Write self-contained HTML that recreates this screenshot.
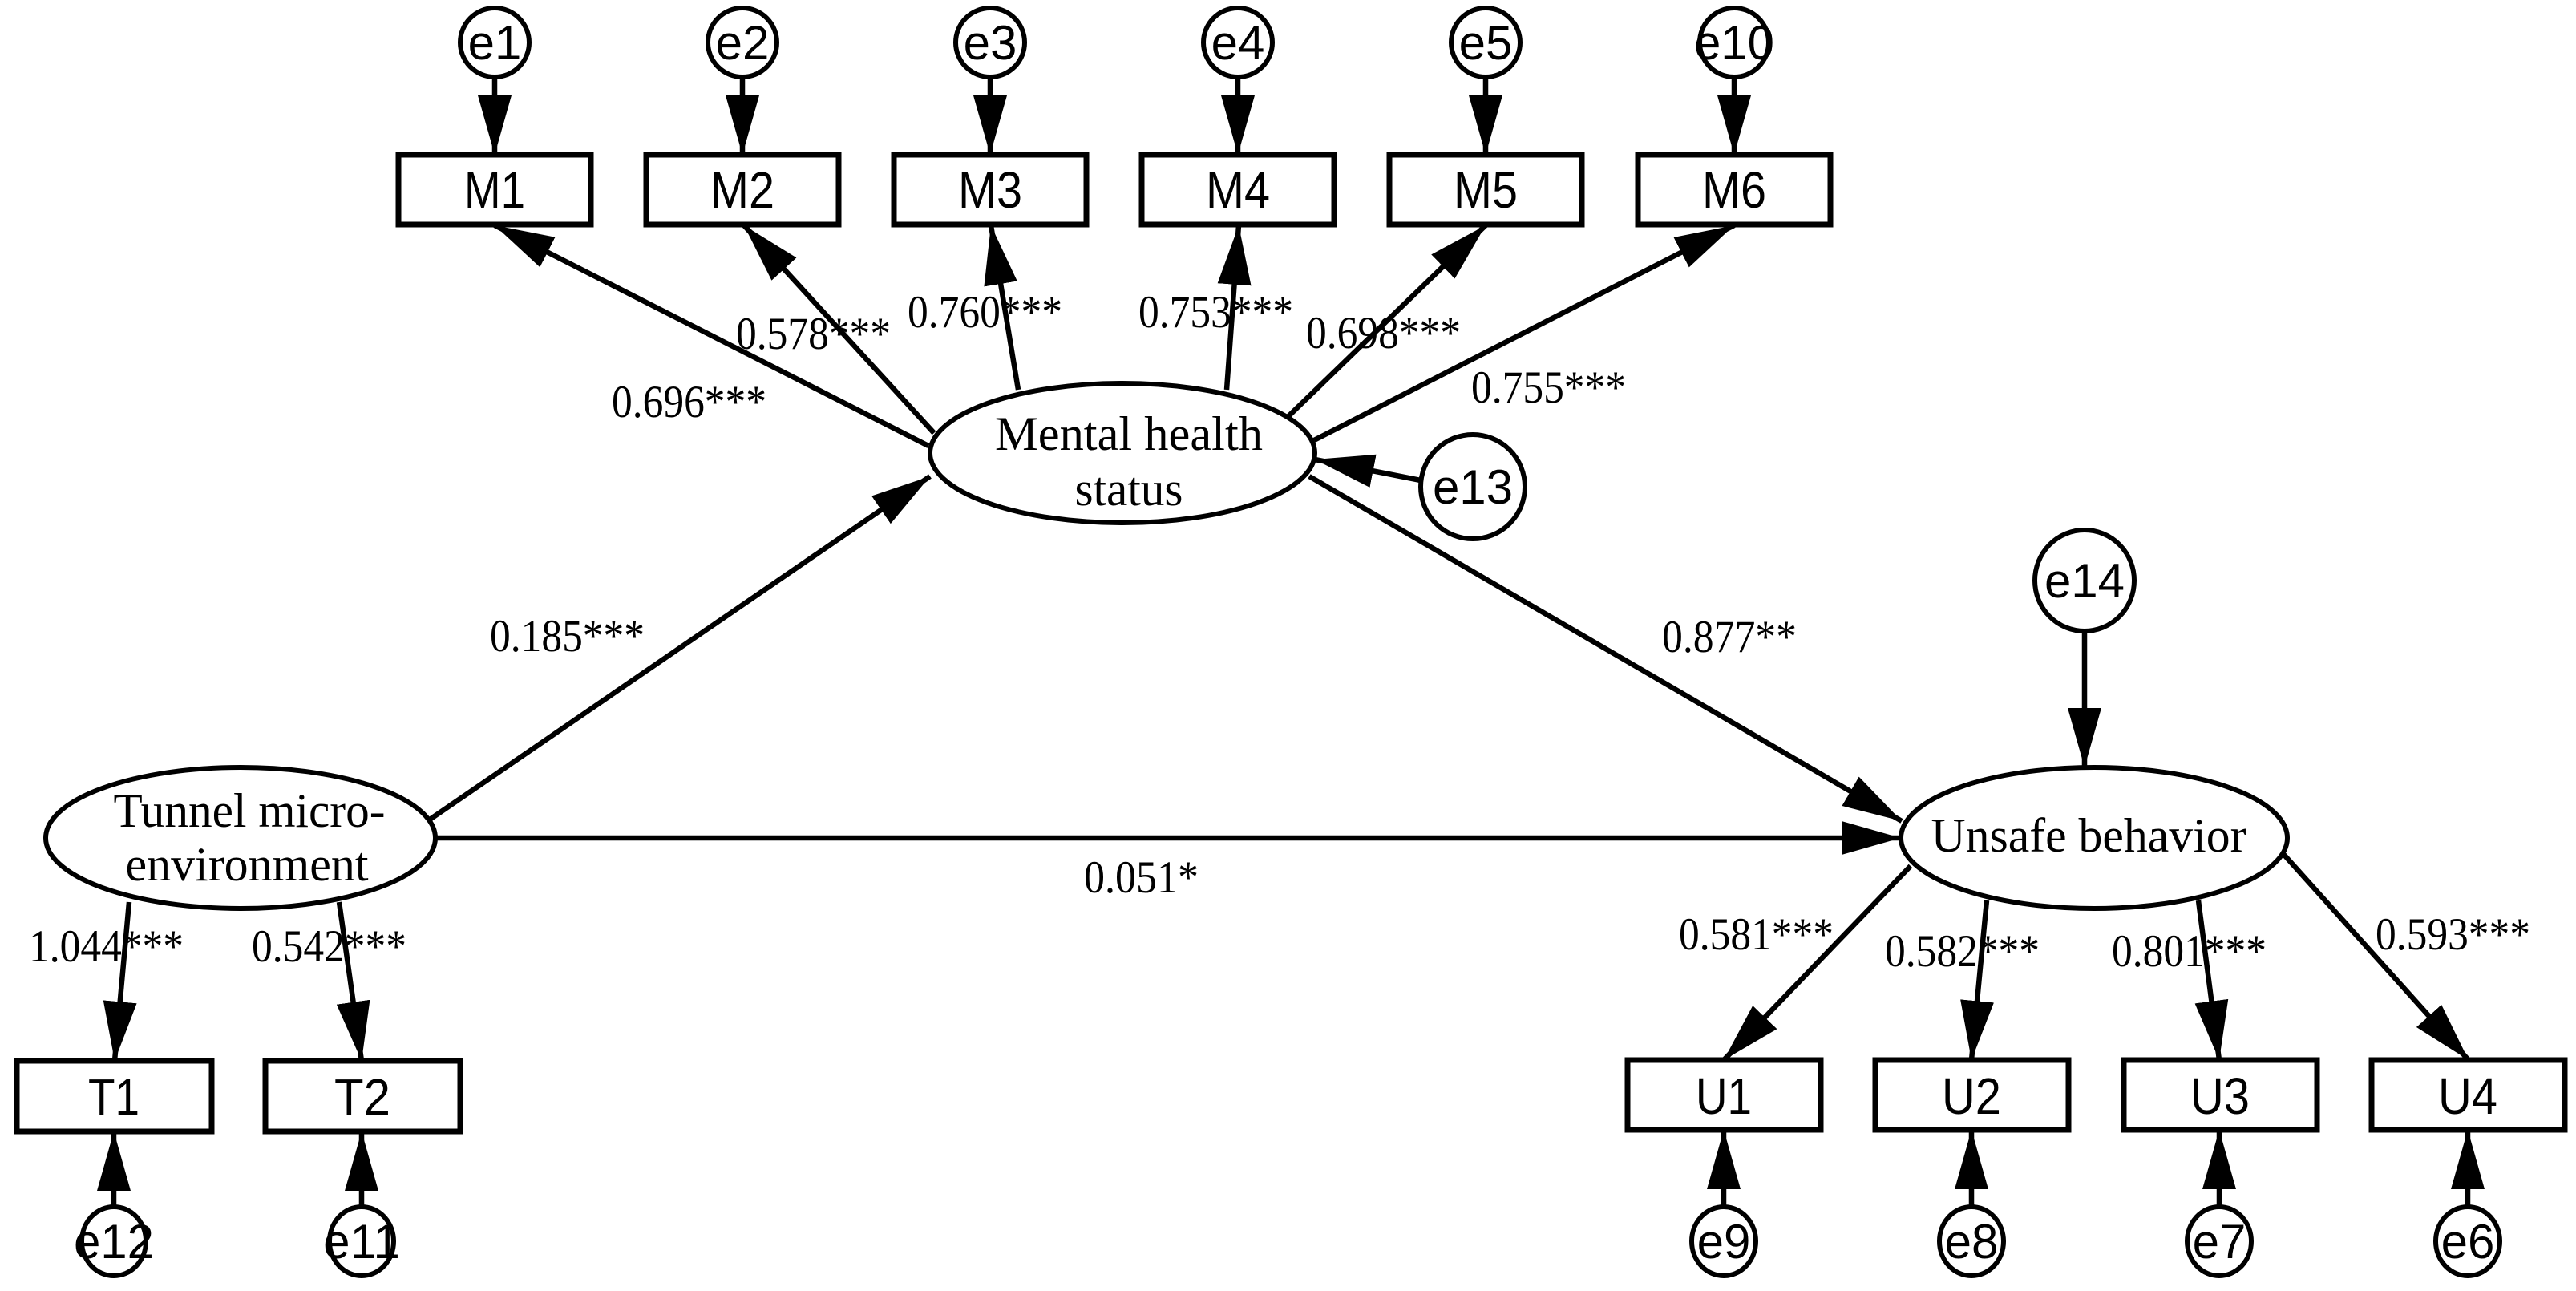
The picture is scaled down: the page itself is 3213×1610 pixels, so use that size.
<!DOCTYPE html>
<html><head><meta charset="utf-8"><style>
html,body{margin:0;padding:0;background:#fff;}
svg{display:block;}
.t{font-family:"Liberation Serif",serif;font-size:57px;fill:#000;}
.n{font-family:"Liberation Serif",serif;font-size:60px;fill:#000;text-anchor:middle;}
.a{font-family:"Liberation Sans",sans-serif;font-size:64px;fill:#000;text-anchor:middle;}
.e{font-family:"Liberation Sans",sans-serif;font-size:60px;fill:#000;text-anchor:middle;}
</style></head><body>
<svg width="3213" height="1610" viewBox="0 0 3213 1610" xmlns="http://www.w3.org/2000/svg">
<defs>
<marker id="ar" markerUnits="userSpaceOnUse" markerWidth="74" markerHeight="42" refX="74" refY="21" orient="auto">
<path d="M0,0 L74,21 L0,42 z" fill="#000"/>
</marker>
</defs>
<g stroke="#000" stroke-width="6.5" fill="none" marker-end="url(#ar)">
<line x1="617" y1="96" x2="617" y2="193"/>
<line x1="926" y1="96" x2="926" y2="193"/>
<line x1="1235" y1="96" x2="1235" y2="193"/>
<line x1="1544" y1="96" x2="1544" y2="193"/>
<line x1="1853" y1="96" x2="1853" y2="193"/>
<line x1="2163" y1="96" x2="2163" y2="193"/>
<line x1="1158" y1="556" x2="617" y2="281"/>
<line x1="1165" y1="540" x2="928" y2="281"/>
<line x1="1270" y1="486" x2="1236" y2="281"/>
<line x1="1530" y1="486" x2="1545" y2="281"/>
<line x1="1604" y1="522" x2="1853" y2="281"/>
<line x1="1639" y1="549" x2="2163" y2="281"/>
<line x1="1772" y1="599" x2="1640" y2="573"/>
<line x1="536" y1="1022" x2="1160" y2="594"/>
<line x1="1633" y1="594" x2="2372" y2="1024"/>
<line x1="544" y1="1045" x2="2371" y2="1045"/>
<line x1="2600" y1="787" x2="2600" y2="957"/>
<line x1="161" y1="1125" x2="143" y2="1323"/>
<line x1="423" y1="1125" x2="451" y2="1323"/>
<line x1="142" y1="1505" x2="142" y2="1411"/>
<line x1="451" y1="1505" x2="451" y2="1411"/>
<line x1="2383" y1="1080" x2="2150" y2="1322"/>
<line x1="2478" y1="1123" x2="2459" y2="1322"/>
<line x1="2742" y1="1123" x2="2768" y2="1322"/>
<line x1="2848" y1="1065" x2="3079" y2="1322"/>
<line x1="2150" y1="1505" x2="2150" y2="1409"/>
<line x1="2459" y1="1505" x2="2459" y2="1409"/>
<line x1="2768" y1="1505" x2="2768" y2="1409"/>
<line x1="3078" y1="1505" x2="3078" y2="1409"/>
</g>
<g stroke="#000" stroke-width="7" fill="#fff">
<rect x="497" y="193" width="240" height="87"/>
<rect x="806" y="193" width="240" height="87"/>
<rect x="1115" y="193" width="240" height="87"/>
<rect x="1424" y="193" width="240" height="87"/>
<rect x="1733" y="193" width="240" height="87"/>
<rect x="2043" y="193" width="240" height="87"/>
<rect x="21" y="1323" width="243" height="88"/>
<rect x="331" y="1323" width="243" height="88"/>
<rect x="2030" y="1322" width="241" height="87"/>
<rect x="2339" y="1322" width="241" height="87"/>
<rect x="2649" y="1322" width="241" height="87"/>
<rect x="2958" y="1322" width="241" height="87"/>
</g>
<g stroke="#000" stroke-width="6" fill="#fff">
<ellipse cx="617" cy="53" rx="43" ry="43"/>
<ellipse cx="926" cy="53" rx="43" ry="43"/>
<ellipse cx="1235" cy="53" rx="43" ry="43"/>
<ellipse cx="1544" cy="53" rx="43" ry="43"/>
<ellipse cx="1853" cy="53" rx="43" ry="43"/>
<ellipse cx="2163" cy="53" rx="43" ry="43"/>
<ellipse cx="142" cy="1548" rx="40" ry="43"/>
<ellipse cx="451" cy="1548" rx="40" ry="43"/>
<ellipse cx="2150" cy="1548" rx="40" ry="43"/>
<ellipse cx="2459" cy="1548" rx="40" ry="43"/>
<ellipse cx="2768" cy="1548" rx="40" ry="43"/>
<ellipse cx="3078" cy="1548" rx="40" ry="43"/>
<ellipse cx="1837" cy="607" rx="65" ry="65"/>
<ellipse cx="2600" cy="724" rx="62" ry="63"/>
<ellipse cx="1400" cy="565" rx="240" ry="87"/>
<ellipse cx="300" cy="1045" rx="243" ry="88"/>
<ellipse cx="2612" cy="1045" rx="241" ry="88"/>
</g>
<g>
<text class="e" x="617" y="74">e1</text>
<text class="e" x="926" y="74">e2</text>
<text class="e" x="1235" y="74">e3</text>
<text class="e" x="1544" y="74">e4</text>
<text class="e" x="1853" y="74">e5</text>
<text class="e" x="2163" y="74">e10</text>
<text class="e" x="142" y="1569">e12</text>
<text class="e" x="451" y="1569">e11</text>
<text class="e" x="2150" y="1569">e9</text>
<text class="e" x="2459" y="1569">e8</text>
<text class="e" x="2768" y="1569">e7</text>
<text class="e" x="3078" y="1569">e6</text>
<text class="e" x="1837" y="628">e13</text>
<text class="e" x="2600" y="745">e14</text>
<text class="a" x="617" y="259" textLength="76" lengthAdjust="spacingAndGlyphs">M1</text>
<text class="a" x="926" y="259" textLength="80" lengthAdjust="spacingAndGlyphs">M2</text>
<text class="a" x="1235" y="259" textLength="80" lengthAdjust="spacingAndGlyphs">M3</text>
<text class="a" x="1544" y="259" textLength="80" lengthAdjust="spacingAndGlyphs">M4</text>
<text class="a" x="1853" y="259" textLength="80" lengthAdjust="spacingAndGlyphs">M5</text>
<text class="a" x="2163" y="259" textLength="80" lengthAdjust="spacingAndGlyphs">M6</text>
<text class="a" x="142" y="1390" textLength="64" lengthAdjust="spacingAndGlyphs">T1</text>
<text class="a" x="452" y="1390" textLength="70" lengthAdjust="spacingAndGlyphs">T2</text>
<text class="a" x="2150" y="1389" textLength="70" lengthAdjust="spacingAndGlyphs">U1</text>
<text class="a" x="2459" y="1389" textLength="74" lengthAdjust="spacingAndGlyphs">U2</text>
<text class="a" x="2769" y="1389" textLength="74" lengthAdjust="spacingAndGlyphs">U3</text>
<text class="a" x="3078" y="1389" textLength="74" lengthAdjust="spacingAndGlyphs">U4</text>
<text class="n" x="1408" y="561" textLength="334" lengthAdjust="spacingAndGlyphs">Mental health</text>
<text class="n" x="1408" y="630" textLength="135" lengthAdjust="spacingAndGlyphs">status</text>
<text class="n" x="311" y="1031" textLength="339" lengthAdjust="spacingAndGlyphs">Tunnel micro-</text>
<text class="n" x="308" y="1098" textLength="303" lengthAdjust="spacingAndGlyphs">environment</text>
<text class="n" x="2605" y="1062" textLength="393" lengthAdjust="spacingAndGlyphs">Unsafe behavior</text>
<text class="t" x="763" y="520" textLength="193" lengthAdjust="spacingAndGlyphs">0.696***</text>
<text class="t" x="918" y="435" textLength="193" lengthAdjust="spacingAndGlyphs">0.578***</text>
<text class="t" x="1132" y="408" textLength="193" lengthAdjust="spacingAndGlyphs">0.760***</text>
<text class="t" x="1420" y="408" textLength="193" lengthAdjust="spacingAndGlyphs">0.753***</text>
<text class="t" x="1629" y="434" textLength="193" lengthAdjust="spacingAndGlyphs">0.698***</text>
<text class="t" x="1835" y="502" textLength="193" lengthAdjust="spacingAndGlyphs">0.755***</text>
<text class="t" x="611" y="812" textLength="193" lengthAdjust="spacingAndGlyphs">0.185***</text>
<text class="t" x="2073" y="813" textLength="168" lengthAdjust="spacingAndGlyphs">0.877**</text>
<text class="t" x="1352" y="1113" textLength="143" lengthAdjust="spacingAndGlyphs">0.051*</text>
<text class="t" x="36" y="1199" textLength="193" lengthAdjust="spacingAndGlyphs">1.044***</text>
<text class="t" x="314" y="1199" textLength="193" lengthAdjust="spacingAndGlyphs">0.542***</text>
<text class="t" x="2094" y="1184" textLength="193" lengthAdjust="spacingAndGlyphs">0.581***</text>
<text class="t" x="2351" y="1205" textLength="193" lengthAdjust="spacingAndGlyphs">0.582***</text>
<text class="t" x="2634" y="1205" textLength="193" lengthAdjust="spacingAndGlyphs">0.801***</text>
<text class="t" x="2963" y="1184" textLength="193" lengthAdjust="spacingAndGlyphs">0.593***</text>
</g>
</svg>
</body></html>
